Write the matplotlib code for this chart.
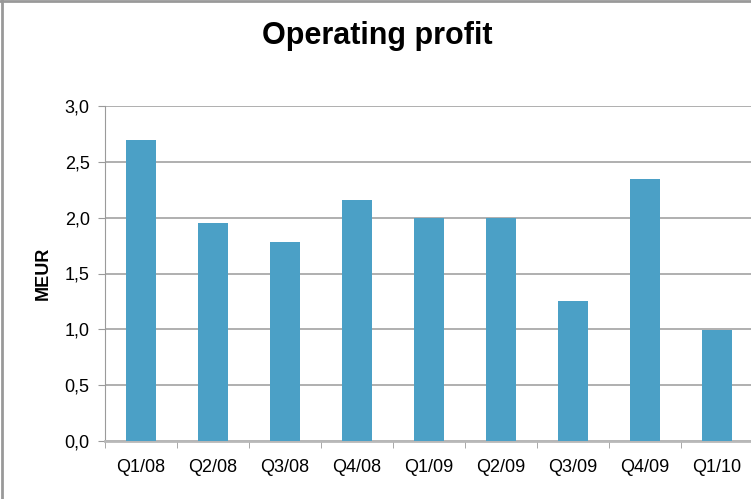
import numpy as np
import matplotlib.pyplot as plt
from matplotlib.ticker import FuncFormatter, FixedLocator

# Quarterly operating profit, MEUR
quarters = ['Q1/08', 'Q2/08', 'Q3/08', 'Q4/08', 'Q1/09', 'Q2/09', 'Q3/09', 'Q4/09', 'Q1/10']
profit = [2.70, 1.95, 1.78, 2.16, 2.00, 2.00, 1.25, 2.35, 0.99]

plt.rcParams['font.family'] = ['Liberation Sans', 'DejaVu Sans']

fig = plt.figure(figsize=(7.51, 4.99), dpi=100)
ax = fig.add_axes([105 / 751, 58 / 499, 648 / 751, 335 / 499])

x = np.arange(len(quarters))
ax.bar(x, profit, width=0.42, color='#4BA0C6', zorder=3)

ax.set_xlim(-0.5, len(quarters) - 0.5)
ax.set_ylim(0, 3.0)
ax.set_yticks(np.arange(0, 3.01, 0.5))
ax.yaxis.set_major_formatter(FuncFormatter(lambda v, p: f'{v:.1f}'.replace('.', ',')))
ax.grid(axis='y', color='#9a9a9a', linewidth=1.1, zorder=0)

# category labels centred, tick marks between categories
ax.set_xticks(x)
ax.set_xticklabels(quarters)
ax.xaxis.set_minor_locator(FixedLocator(np.arange(-0.5, len(quarters), 1.0)))
ax.tick_params(axis='x', which='major', length=0, pad=13, labelsize=13)
ax.tick_params(axis='x', which='minor', length=5, color='#9a9a9a', direction='out')
ax.tick_params(axis='y', length=5, color='#9a9a9a', pad=6, labelsize=13)

for s in ['top', 'right']:
    ax.spines[s].set_visible(False)
ax.spines['left'].set_color('#9a9a9a')
ax.spines['bottom'].set_color('#b8b8b8')
ax.spines['bottom'].set_linewidth(2)

ax.set_ylabel('MEUR', fontsize=13, fontweight='bold', labelpad=9)

fig.text(377 / 751, 1 - 36 / 499, 'Operating profit', ha='center', va='center',
         fontsize=22, fontweight='bold')

# chart frame (left and top edges visible)
fig.add_artist(plt.Line2D([0.003, 0.003], [0, 1], transform=fig.transFigure, color='#999999', linewidth=2))
fig.add_artist(plt.Line2D([0, 1], [0.997, 0.997], transform=fig.transFigure, color='#999999', linewidth=2))

fig.savefig('out.png', dpi=100)
